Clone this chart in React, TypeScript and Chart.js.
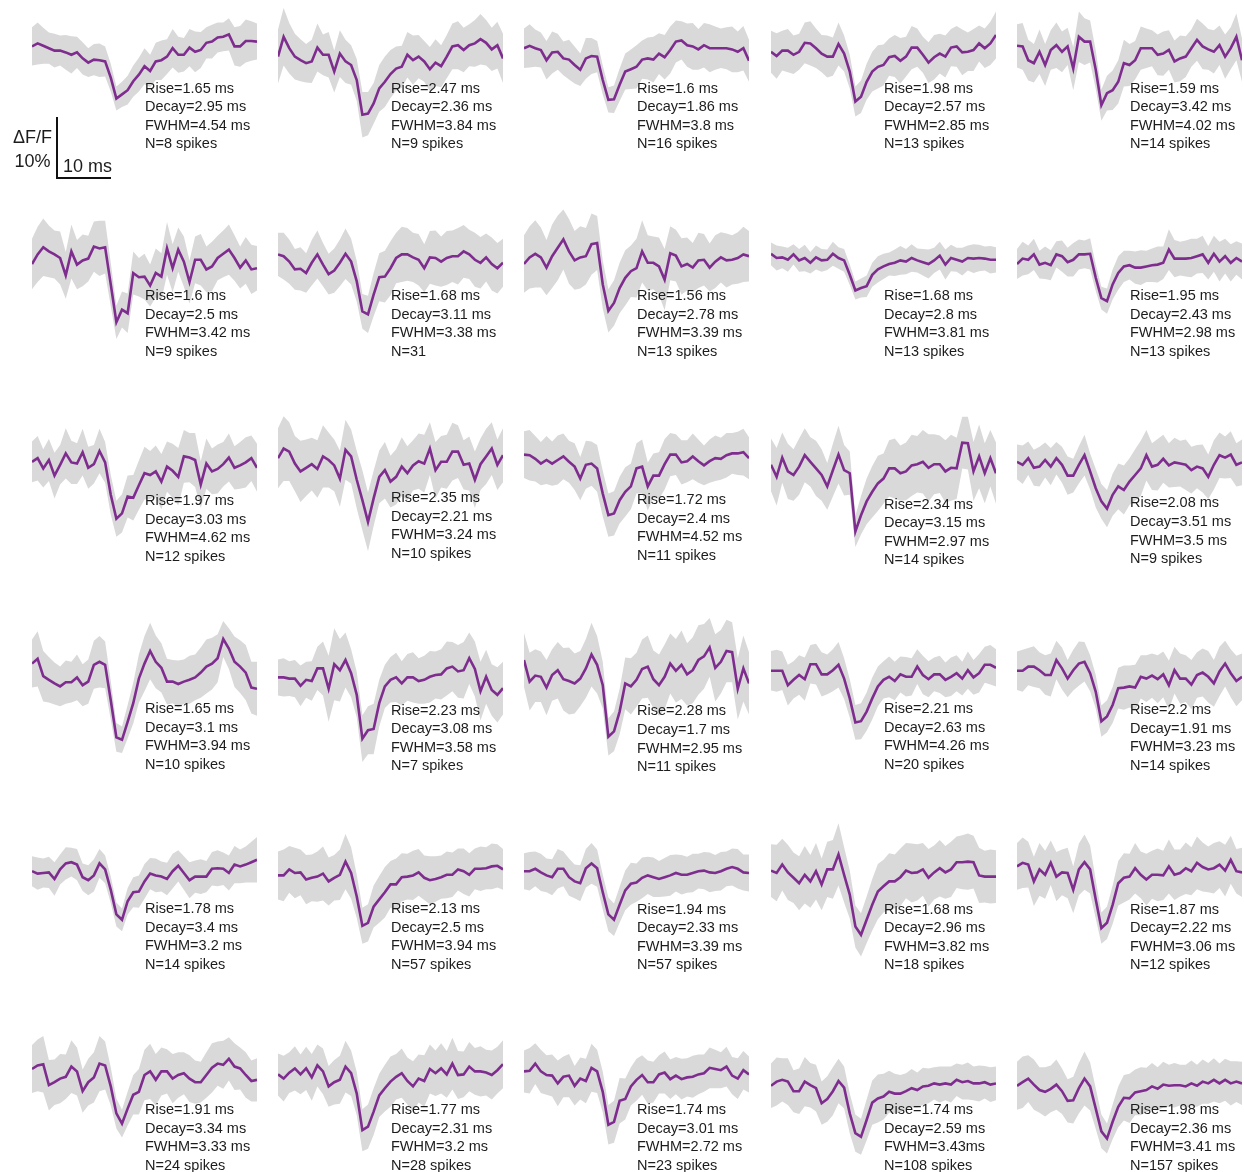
import React, { useEffect, useRef } from "react";
import { Chart, registerables } from "chart.js";

Chart.register(...registerables);

// time axis of every trace, in ms
const TIME_MS = [0,1,2,3,4,5,6,7,8,9,10,11,12,13,14,15,16,17,18,19,20,21,22,23,24,25,26,27,28,29,30,31,32,33,34,35,36,37,38,39,40];

// mean spike-triggered dF/F (%) per cell
const P01_MEAN = [0.1,0.6,0.2,-0.2,-0.6,-0.6,-0.9,-1.3,-0.9,-1.9,-2.6,-2.1,-2.2,-2.4,-5.1,-8.6,-7.9,-7.2,-5.7,-4.6,-3.2,-4.0,-2.4,-2.2,-1.6,-0.2,-1.3,-1.3,-0.1,-0.8,-0.5,0.7,0.9,1.6,1.7,2.1,0.1,0.1,1.0,1.0,0.9];
const P02_MEAN = [-1.6,1.7,-0.2,-1.6,-2.2,-2.7,-2.4,-0.1,-1.3,-1.3,-4.1,-1.1,-2.4,-3.0,-5.5,-11.3,-11.1,-9.4,-6.9,-5.8,-4.5,-3.6,-3.3,-1.3,-2.2,-1.6,-2.4,-3.7,-2.6,-3.2,-1.6,0.1,0.3,-0.5,0.3,0.6,1.3,0.7,-0.4,0.3,-1.9];
const P03_MEAN = [-0.2,0.2,-0.2,-0.5,-2.2,-0.9,-0.8,-1.9,-2.1,-3.0,-3.8,-1.9,-1.5,-1.6,-5.5,-8.8,-8.7,-6.3,-4.1,-3.7,-3.3,-2.1,-1.9,-2.1,-1.1,-1.7,-0.5,0.9,1.1,0.3,0.1,-0.4,0.3,-0.2,-0.2,-0.2,-0.2,-0.4,-0.8,-0.2,-2.3];
const P04_MEAN = [-0.8,-1.5,-0.6,-0.6,-1.3,-0.8,0.7,0.6,-0.2,-1.1,-1.6,-1.6,0.5,-1.1,-4.1,-9.1,-8.3,-5.8,-4.1,-3.3,-3.0,-1.7,-1.5,-2.3,-1.6,-0.1,-0.1,-1.3,-2.6,-1.7,-1.1,-1.6,-0.1,0.1,-0.9,-0.8,-0.5,0.6,-0.2,0.6,2.0];
const P05_MEAN = [0.2,0.1,-2.2,-2.7,-0.8,-3.0,-0.5,0.3,-0.8,0.1,-3.6,1.7,0.9,0.9,-3.8,-9.7,-7.7,-7.2,-5.8,-2.7,-3.0,-2.2,-0.2,-0.2,-0.2,-1.3,-1.1,-0.5,-2.4,-1.9,-1.6,-0.2,1.2,0.1,-0.4,-0.8,0.3,-1.6,-0.2,1.7,-2.2];
const P06_MEAN = [-1.0,0.6,1.8,1.1,0.6,0,-2.9,1.1,-1.1,-0.4,-0.1,1.9,1.6,1.8,-4.4,-10.7,-8.6,-9.2,-2.5,-3.2,-3.1,-4.6,-2.5,-3.1,1.6,-1.7,1.4,-0.6,-4.0,-0.3,-0.3,-1.9,-1.4,0,0.7,1.4,0,-1.6,-0.4,-1.9,-1.7];
const P07_MEAN = [0.6,0.3,-0.6,-1.9,-1.8,-2.5,-0.8,0.6,-1.1,-2.7,-2.1,-0.8,0.7,-0.6,-3.9,-8.9,-9.4,-6.1,-3.2,-3.1,-1.7,0,0.6,0.6,0.1,-0.3,-1.7,0.1,0,-0.6,0,0.3,0.3,1.1,0.6,-0.3,-0.8,0.1,-1.0,-1.7,-0.8];
const P08_MEAN = [-1.0,0.1,0.7,0.1,-1.6,0.3,1.7,3.1,1.1,-0.4,0.1,0.3,2.3,2.5,-4.4,-8.8,-7.5,-5.0,-3.3,-2.2,-1.7,1.1,-0.8,-0.8,-1.4,-3.6,0.8,0.4,-1.4,-1.0,-1.6,-0.4,-0.3,-1.6,-0.6,0.1,-0.4,-0.3,0,0.6,0.3];
const P09_MEAN = [0.7,0,0.1,-0.3,0.6,-0.4,0,-0.8,0.1,-0.4,-0.3,0.7,0,-0.4,-2.8,-5.4,-5.0,-4.7,-2.8,-1.9,-1.4,-1.0,-0.8,-0.4,-0.6,0,-0.4,-0.7,-1.0,-0.4,0.4,-1.1,0,-0.3,-0.6,0,-0.1,0,-0.1,-0.3,-0.3];
const P10_MEAN = [-1.0,-0.1,-0.3,0.6,-1.1,-0.8,-1.2,0.6,0.3,-0.7,-0.3,0.6,0.6,0.7,-3.3,-6.7,-7.2,-4.4,-2.5,-1.4,-1.2,-1.6,-1.6,-1.4,-1.2,-1.1,-0.8,1.4,-0.1,-0.1,-0.1,0,0.3,0.6,-0.8,0.7,-0.6,0.3,-0.8,0,-0.6];
const P11_MEAN = [-0.3,0.3,-1.4,0,-2.6,-0.8,1.1,-0.4,-0.6,1.3,-1.3,-0.7,1.5,-0.4,-5.8,-9.8,-8.9,-6.1,-6.3,-4.2,-2.2,-2.5,-1.9,-3.6,-1.1,-1.8,-2.8,0.6,0.4,0,-4.1,-0.6,-1.9,-1.5,-0.7,0.4,-1.3,-0.9,-0.4,0.3,-1.3];
const P12_MEAN = [0.3,1.9,1.4,-0.6,-1.9,-1.3,-0.7,-1.5,0.6,0,-0.9,-3.1,1.7,0.6,-3.3,-6.7,-10.3,-6.4,-2.8,-1.7,-3.6,-2.8,-1.1,-2.2,-0.9,-0.2,-0.6,1.9,-1.7,-0.3,-0.3,1.4,1.4,-0.8,-0.6,-3.3,-0.7,0.6,1.9,-0.8,0.8];
const P13_MEAN = [0.9,0.8,0.2,-0.6,0,-0.6,0,0.6,-0.3,-1.1,-3.1,-0.8,-0.6,-1.4,-5.6,-9.2,-8.9,-6.7,-5.3,-4.4,-1.4,-1.1,-4.4,-2.6,-2.6,-0.7,0.9,0.9,-0.4,-0.2,0.6,-0.2,-0.9,-0.2,0.3,0.2,0.8,1.1,1.1,1.3,0.3];
const P14_MEAN = [-0.8,-2.8,0.4,-1.9,-2.5,-1.1,0.8,-0.3,-1.4,-2.5,-4.4,-1.7,0.9,-1.7,-2.2,-11.9,-9.2,-6.9,-5.3,-3.9,-3.1,-1.4,-1.4,-2.2,-1.9,-0.9,-0.7,-0.3,-1.3,-0.7,-0.7,-1.9,-1.3,-1.4,2.9,2.8,-1.9,0.6,-2.2,0.3,-2.2];
const P15_MEAN = [-0.3,-0.8,0.3,-1.3,-1.1,0,-1.1,0.3,-0.8,-2.6,-2.6,-0.8,0.8,-1.9,-4.7,-6.9,-8.1,-5.8,-4.4,-5.0,-3.6,-2.5,-1.4,0.8,-1.1,-0.8,0.2,-0.9,-0.4,-0.6,-0.8,-1.7,-1.1,-1.4,-2.8,-0.8,0.8,0.4,0.9,-0.8,-0.4];
const P16_MEAN = [1.9,2.7,-0.2,-0.8,-1.4,-1.9,-1.2,-1.2,-0.4,-1.7,-1.1,1.7,2.2,1.7,-4.2,-10.4,-10.8,-7.8,-4.7,-0.6,1.9,4.0,2.2,1.2,-1.1,-1.1,-1.5,-1.1,-0.8,-0.4,0.4,1.4,1.9,2.8,6.0,4.4,2.2,1.4,0.4,-2.1,-2.3];
const P17_MEAN = [-0.4,-0.4,-0.6,-0.6,-1.8,-0.8,-1.0,1.1,1.1,-2.3,1.8,0.8,2.5,0.3,-3.3,-10.6,-9.2,-9.0,-4.7,-1.9,-0.8,-0.4,-1.4,-0.4,-0.4,-1.0,-0.8,-0.3,0,0.1,1.1,1.4,0.6,0.8,2.8,1.0,-2.7,-0.3,-2.5,-3.3,-2.2];
const P18_MEAN = [2.5,-1.1,-0.1,-0.3,-2.1,0,0.8,-0.7,-1.0,-1.4,-0.6,1.1,3.4,1.7,-1.7,-10.3,-9.4,-6.1,-1.4,-1.9,-0.8,1.0,1.4,-0.7,-1.7,-0.3,1.9,0.7,1.7,0.1,0.8,2.5,3.1,4.6,1.2,2.2,4.0,3.8,-2.3,1.1,-1.4];
const P19_MEAN = [0.7,0.7,0.7,-1.7,-0.8,0,-0.7,1.8,1.8,0.1,0.1,0.8,1.7,-0.6,-3.9,-7.9,-7.7,-6.1,-3.9,-1.9,-0.8,-0.3,-1.0,0.1,-0.3,-0.3,1.4,0,-0.7,0.1,0.1,-0.8,-0.3,0.3,-0.6,0.8,-0.4,0.3,1.7,1.7,1.2];
const P20_MEAN = [0.7,0.7,1.4,1.4,0.8,0,0,2.5,1.1,-0.6,0.8,1.9,2.2,0.3,-2.8,-7.7,-6.9,-5.0,-2.2,-2.1,-1.9,-2.1,-0.3,-0.6,-0.1,-0.7,0.1,-1.7,0.8,-0.6,-0.6,-1.6,0,0.4,-0.3,-1.4,0.6,1.9,0.3,-1.0,-0.3];
const P21_MEAN = [0.3,-0.1,0,0.1,-1.0,0.6,1.6,1.8,1.4,-0.7,-1.2,-0.4,1.6,0.6,-2.8,-6.9,-7.8,-4.7,-3.2,-3.1,-1.4,-0.1,-0.4,-0.6,-1.0,0.3,1.2,0,-1.2,-0.6,-0.6,-0.6,0.7,0.8,0.7,0,1.4,1.1,1.4,1.8,2.2];
const P22_MEAN = [-0.4,-0.4,0.6,0,0.1,-1.1,-0.8,-0.6,-0.1,-1.4,-0.8,-0.3,1.9,0,-3.9,-8.8,-8.3,-5.6,-4.4,-3.2,-1.9,-1.9,-0.7,-0.6,-0.4,0.1,-0.8,-1.2,-1.0,-0.7,-0.3,-0.3,0.6,0.3,-0.3,0.7,0.7,0.8,1.1,1.2,0.6];
const P23_MEAN = [0.3,0.3,0.7,0.1,-0.4,-0.7,0.7,0.7,-0.7,-1.4,-1.7,0.8,1.6,0.8,-3.2,-6.9,-7.8,-5.3,-2.9,-1.8,-1.6,-0.8,-0.4,-0.7,-1.0,-0.7,-0.4,0,-0.3,-0.3,0,0.3,0.4,0.1,0,0.3,0.7,1.0,0.7,0.1,0];
const P24_MEAN = [0.4,0,1.4,0.1,-0.8,-1.7,-0.3,-1.4,0.3,-1.9,0.6,0.6,3.1,-0.3,-3.6,-8.9,-10.3,-7.8,-5.3,-3.1,-2.2,-1.4,-1.4,-0.7,0.4,0,0.1,0.6,-0.8,0.1,0.8,0.1,0.6,1.8,1.8,1.9,1.8,-0.4,-0.6,-0.6,-0.6];
const P25_MEAN = [1.1,1.7,1.4,-1.4,0.6,-0.3,1.7,-0.6,0.1,0,-2.8,0.6,1.8,0.6,-4.4,-9.2,-8.3,-5.3,-1.7,-0.8,-0.6,0.8,-0.3,-1.1,-0.3,-0.3,-0.4,1.1,-0.3,0,0.8,0.3,1.7,1.0,0.6,0.8,1.4,0.4,2.2,0.3,0.1];
const P26_MEAN = [1.0,1.6,1.8,-1.7,-1.2,-0.6,-0.3,1.4,0.6,-2.7,-1.2,-0.4,1.9,1.6,-1.9,-6.4,-8.1,-5.6,-3.3,-2.8,0,0.6,-0.8,0.6,0.6,-0.6,0,0.3,-0.6,-1.2,-1.2,0,1.2,1.9,1.7,2.7,1.4,1.1,0,-1.0,-0.8];
const P27_MEAN = [0.1,-0.6,0.4,1.1,0.1,1.1,-0.4,1.6,0.6,-1.9,-1.2,-0.8,1.4,0.3,-3.1,-9.2,-8.6,-6.1,-3.4,-2.2,-1.1,-0.3,0.3,-1.0,-1.9,-0.6,-1.0,1.0,0.3,1.1,0.1,1.9,0,0.1,1.4,0.6,0.6,0.4,0,0.8,1.8];
const P28_MEAN = [0.6,0.7,1.9,0.6,0,-0.1,-1.4,-0.3,-0.1,-1.8,-0.6,-1.0,1.2,0.6,-2.8,-8.3,-7.8,-4.3,-4.0,-1.9,-0.8,0,-1.2,-1.2,0.1,0.4,-0.7,-0.1,-0.7,-0.4,-0.3,0.1,0.3,1.2,1.0,0.8,1.4,-0.1,-0.6,0.8,0.1];
const P29_MEAN = [-1.8,-1.1,-0.8,-1.1,-2.7,-2.7,-1.1,-1.7,-2.2,-4.7,-4.0,-2.7,-1.0,-2.1,-6.4,-9.7,-10.3,-7.5,-4.6,-3.9,-3.6,-2.8,-3.1,-3.1,-2.7,-2.2,-2.5,-1.9,-1.8,-1.4,-1.6,-1.4,-1.6,-0.8,-1.2,-1.0,-1.4,-1.4,-1.2,-1.6,-1.4];
const P30_MEAN = [-1.8,-1.2,-0.6,-1.6,-2.5,-2.8,-2.3,-1.6,-2.7,-4.3,-4.2,-2.2,-0.6,-1.9,-5.6,-9.4,-10.6,-7.8,-5.3,-3.8,-3.9,-2.9,-2.7,-2.5,-1.9,-2.3,-1.6,-1.8,-1.7,-1.7,-1.9,-1.4,-1.8,-1.1,-1.4,-0.8,-1.4,-0.8,-1.4,-1.1,-1.4];

// shaded error band half-width (%) per cell
const P01_SEM = [3.2,3.5,3.0,2.6,2.8,2.5,2.9,3.1,2.6,2.7,2.4,2.6,2.8,2.5,2.3,2.0,2.1,2.4,2.6,2.8,3.0,2.7,3.1,3.3,2.9,3.2,3.0,2.8,3.1,3.4,3.0,2.6,2.8,2.5,2.4,2.7,3.2,3.4,3.6,3.3,3.0];
const P02_SEM = [4.5,4.8,4.2,3.8,3.5,3.2,3.6,4.0,3.4,3.8,3.5,3.9,3.6,3.3,3.5,3.8,3.6,3.4,3.9,4.2,4.0,3.7,3.5,3.8,4.1,3.6,3.4,3.7,3.9,3.5,3.6,3.8,4.0,3.7,3.5,3.9,4.2,3.8,3.6,3.9,4.1];
const P03_SEM = [3.3,3.6,3.1,2.9,3.2,3.5,3.0,2.8,3.3,3.1,2.7,3.4,3.0,2.6,2.4,2.1,2.3,2.7,3.0,3.3,3.6,3.2,3.5,3.8,3.4,3.7,3.9,3.5,3.2,3.6,3.9,3.4,3.7,4.0,3.6,3.3,3.5,3.8,3.4,3.7,3.5];
const P04_SEM = [3.5,3.8,3.3,3.6,3.2,3.0,3.4,3.7,3.3,3.1,3.5,3.2,3.6,3.0,2.8,2.5,2.7,3.0,3.3,3.6,3.4,3.1,3.5,3.8,3.3,3.6,3.2,3.0,3.4,3.7,3.3,3.5,3.1,3.4,3.8,3.2,3.5,3.0,3.3,3.6,3.9];
const P05_SEM = [3.6,3.9,3.4,3.2,3.7,3.5,3.3,3.8,3.4,3.1,3.6,4.2,3.9,3.5,3.2,2.6,2.9,3.3,3.6,3.9,3.5,3.2,3.6,3.3,3.0,3.4,3.7,3.3,3.5,3.8,3.4,3.1,3.5,3.8,3.4,3.6,3.3,3.7,3.5,3.9,3.6];
const P06_SEM = [4.2,4.6,4.8,4.3,4.0,4.4,3.9,4.5,4.1,4.3,3.8,4.2,4.6,4.4,3.6,2.8,3.0,3.3,3.6,3.2,3.8,3.5,4.1,3.9,4.4,4.0,3.7,4.2,3.6,3.9,4.3,3.8,4.1,3.7,3.9,4.2,3.8,3.5,3.9,4.1,3.7];
const P07_SEM = [3.6,3.9,3.7,3.4,3.6,3.3,3.8,4.0,3.6,3.4,3.7,3.9,4.2,3.8,3.4,2.9,3.1,3.6,4.0,4.3,4.5,4.2,4.6,4.4,4.1,4.3,4.0,4.4,4.6,4.2,4.5,4.3,4.7,4.4,4.1,4.5,4.3,4.0,4.4,4.2,4.0];
const P08_SEM = [4.8,5.2,5.6,5.0,4.6,5.3,5.4,5.0,5.4,4.9,5.2,4.7,5.1,4.5,4.0,3.6,3.8,4.2,4.6,4.3,4.9,5.2,4.6,4.4,4.8,5.1,4.5,4.3,4.7,4.4,4.1,4.6,4.3,4.0,4.4,4.2,4.5,4.1,4.3,4.6,4.2];
const P09_SEM = [1.9,2.1,1.8,2.0,1.7,1.9,2.2,1.8,2.0,1.9,1.7,2.0,1.8,1.9,1.7,1.5,1.6,1.8,2.0,2.2,2.1,1.9,2.2,2.4,2.1,2.3,2.0,2.2,2.4,2.1,2.3,2.5,2.2,2.0,2.3,2.1,2.4,2.2,2.0,2.3,2.1];
const P10_SEM = [2.5,2.8,2.4,2.6,2.3,2.7,2.5,2.2,2.6,2.4,2.8,2.5,2.3,2.6,2.2,1.9,2.1,2.5,2.8,2.6,2.4,2.7,2.9,2.6,2.8,3.0,2.7,3.4,3.1,2.8,3.0,3.2,2.9,3.1,2.8,3.0,3.3,2.9,3.1,2.8,3.0];
const P11_SEM = [3.4,3.7,3.2,3.5,3.8,3.3,4.2,3.6,3.4,3.9,3.5,3.2,3.7,3.4,3.3,3.0,3.2,3.5,3.8,4.1,4.4,4.0,4.3,4.6,4.2,4.5,4.8,4.4,4.1,4.5,3.9,4.2,3.8,4.1,3.7,4.0,3.6,3.9,4.2,3.8,4.0];
const P12_SEM = [5.0,5.4,4.9,4.6,5.1,4.7,4.4,4.8,5.2,4.6,4.3,4.7,5.0,4.5,4.8,5.0,4.9,4.6,4.4,4.7,4.3,4.6,4.9,4.5,4.2,4.6,4.8,4.4,4.7,4.3,4.5,4.8,4.4,4.1,4.5,4.7,4.3,4.6,4.4,4.2,4.5];
const P13_SEM = [3.9,4.2,3.8,3.6,4.0,3.7,4.1,3.8,3.5,3.9,3.6,4.0,3.7,3.9,3.8,3.6,3.7,3.9,4.1,3.8,4.2,4.5,4.0,3.7,3.9,4.2,3.6,3.4,3.7,3.5,3.8,3.6,3.3,3.6,3.8,3.5,3.7,3.4,3.6,3.9,3.5];
const P14_SEM = [4.4,4.8,4.2,4.6,4.3,4.7,4.5,4.1,4.6,4.3,3.9,4.4,4.8,4.2,3.6,2.6,3.2,3.8,4.3,4.6,4.2,4.7,5.0,4.6,4.8,5.1,4.7,5.3,5.6,5.0,4.8,5.2,5.5,5.1,4.3,4.4,4.9,5.3,5.0,4.7,5.1];
const P15_SEM = [2.9,3.2,2.8,3.0,3.3,2.9,3.1,2.7,3.0,3.2,2.8,3.1,3.4,3.0,3.2,2.9,3.1,3.5,3.8,4.1,3.9,4.3,4.6,4.2,3.9,4.3,4.0,3.7,4.1,3.8,4.2,3.9,3.6,4.0,3.7,4.1,3.8,3.5,3.9,3.6,3.8];
const P16_SEM = [4.0,4.6,4.2,3.8,3.5,3.3,3.6,3.4,3.8,3.5,3.7,4.0,4.3,3.9,3.2,2.4,2.2,2.8,3.4,4.0,4.6,4.7,4.4,4.1,3.8,3.6,3.9,3.7,4.0,3.8,4.2,4.5,4.3,4.0,3.0,3.4,4.2,4.4,4.6,4.3,4.5];
const P17_SEM = [3.0,3.2,2.9,3.1,3.4,3.0,3.3,3.6,4.5,5.5,6.0,5.2,4.6,4.0,3.8,3.9,4.0,4.2,3.9,3.6,3.8,4.1,3.7,3.9,4.2,3.8,4.0,4.3,3.9,4.2,4.5,4.1,4.4,4.7,4.3,4.6,4.9,4.5,4.3,4.6,4.4];
const P18_SEM = [4.5,4.8,4.4,4.2,4.6,4.3,4.7,5.2,5.6,5.0,4.6,4.9,5.3,4.8,3.9,3.1,3.3,3.8,4.3,4.7,4.5,4.9,5.2,4.8,5.1,5.4,5.0,5.3,5.7,5.2,5.5,5.8,5.4,4.9,5.6,5.3,5.2,5.0,5.1,5.5,5.2];
const P19_SEM = [3.3,3.5,3.2,3.4,3.1,3.3,3.6,3.2,3.4,3.7,3.3,3.5,3.8,3.4,3.2,2.9,3.0,3.2,3.5,3.3,3.1,3.4,3.2,3.0,3.3,3.1,2.9,3.2,3.0,2.8,3.1,2.9,3.2,3.0,2.8,3.1,2.9,3.2,3.0,3.3,3.1];
const P20_SEM = [3.2,3.5,3.1,3.4,3.0,3.3,3.6,3.2,3.5,3.1,3.4,3.7,3.3,3.0,2.8,2.6,2.7,3.0,3.4,3.7,3.5,3.8,3.6,3.9,3.7,4.0,3.8,4.1,3.9,4.2,3.9,4.1,3.8,4.0,4.3,3.9,4.1,3.8,4.0,4.2,3.9];
const P21_SEM = [2.5,2.7,2.4,2.6,2.8,2.5,2.7,2.4,2.6,2.3,2.5,2.7,2.4,2.3,2.2,2.0,1.9,2.2,2.5,2.7,2.9,2.6,2.8,2.5,2.7,2.9,2.6,2.8,3.0,2.7,2.9,2.6,2.8,3.0,2.7,2.9,3.1,2.8,3.0,3.4,3.8];
const P22_SEM = [4.0,4.3,3.9,4.2,3.8,4.1,3.9,4.2,4.5,4.0,3.8,4.2,4.6,4.3,3.6,3.0,3.1,3.5,3.9,4.2,3.9,4.3,4.0,3.8,4.1,3.9,3.7,4.0,3.8,3.6,3.9,3.7,3.5,3.8,3.6,3.4,3.7,3.5,3.8,3.6,3.4];
const P23_SEM = [3.0,3.2,2.9,3.1,2.8,3.0,3.3,2.9,3.1,2.8,3.0,3.2,3.4,3.1,2.9,2.8,2.7,3.0,3.3,3.5,3.2,3.4,3.1,3.3,3.0,3.2,3.4,3.1,3.3,3.0,3.2,2.9,3.1,3.3,3.0,3.2,2.9,3.1,3.3,3.0,3.1];
const P24_SEM = [4.4,4.7,4.3,4.6,4.2,4.5,4.8,4.4,4.7,4.3,4.6,4.9,5.2,4.6,4.0,3.5,3.6,3.9,4.3,4.6,4.4,4.7,4.5,4.8,4.6,4.9,4.7,4.4,4.8,4.5,4.7,4.4,4.6,4.3,4.5,4.7,4.4,4.6,4.3,4.5,4.4];
const P25_SEM = [3.9,4.2,3.8,4.1,4.4,4.0,3.7,4.1,3.8,4.2,3.9,4.3,4.6,4.0,3.2,2.6,2.7,3.2,3.7,4.1,3.8,4.2,3.9,4.3,4.0,4.4,4.1,4.5,4.2,3.9,4.3,4.0,4.4,4.1,3.8,4.2,3.9,4.3,4.0,3.7,4.1];
const P26_SEM = [4.0,4.3,4.7,4.2,3.8,4.1,3.7,4.4,4.0,3.6,3.9,4.2,4.6,4.0,3.2,2.5,2.3,2.8,3.3,3.8,4.2,4.6,4.3,4.0,3.7,4.1,3.8,3.5,3.9,3.6,3.4,3.8,4.1,3.7,4.0,3.6,3.9,3.5,3.8,3.4,3.6];
const P27_SEM = [3.5,3.8,3.4,3.7,3.3,3.6,3.9,3.5,3.8,3.4,3.7,4.0,4.3,3.8,3.6,3.5,3.7,3.9,3.6,3.9,4.2,3.8,4.1,3.9,4.2,4.0,4.3,4.1,3.8,4.2,3.9,4.3,4.0,3.8,4.1,3.9,4.2,3.8,4.1,3.9,4.0];
const P28_SEM = [3.5,3.8,3.4,3.6,3.3,3.5,3.8,3.4,3.6,3.3,3.5,3.7,4.0,3.6,3.4,3.3,3.5,3.8,3.4,3.2,3.5,3.3,3.6,3.4,3.2,3.5,3.3,3.1,3.4,3.2,3.5,3.3,3.1,3.4,3.2,3.0,3.3,3.1,3.4,3.2,3.0];
const P29_SEM = [3.7,4.0,3.6,3.9,3.5,3.8,4.1,3.7,3.9,3.6,3.8,4.0,3.7,3.5,3.3,3.1,3.0,3.4,3.7,4.0,3.8,3.5,3.3,3.1,3.0,3.2,2.9,3.1,2.9,2.7,3.0,2.8,3.0,2.7,2.9,3.1,2.8,3.0,2.7,2.9,2.8];
const P30_SEM = [4.0,4.3,3.9,4.2,3.8,4.1,3.9,4.2,3.8,3.6,3.9,4.2,4.5,4.0,3.4,2.8,2.5,2.9,3.4,3.8,4.1,3.8,4.0,3.7,3.9,3.6,3.8,3.5,3.7,3.4,3.6,3.8,3.5,3.7,3.4,3.6,3.3,3.5,3.7,3.4,3.6];

// per-cell statistics printed next to each trace
const RISE_MS = [1.65,2.47,1.6,1.98,1.59,1.6,1.68,1.56,1.68,1.95,1.97,2.35,1.72,2.34,2.08,1.65,2.23,2.28,2.21,2.2,1.78,2.13,1.94,1.68,1.87,1.91,1.77,1.74,1.74,1.98];
const DECAY_MS = [2.95,2.36,1.86,2.57,3.42,2.5,3.11,2.78,2.8,2.43,3.03,2.21,2.4,3.15,3.51,3.1,3.08,1.7,2.63,1.91,3.4,2.5,2.33,2.96,2.22,3.34,2.31,3.01,2.59,2.36];
const FWHM_MS = [4.54,3.84,3.8,2.85,4.02,3.42,3.38,3.39,3.81,2.98,4.62,3.24,4.52,2.97,3.5,3.94,3.58,2.95,4.26,3.23,3.2,3.94,3.39,3.82,3.06,3.33,3.2,2.72,3.43,3.41];
const N_SPIKES = [8,9,16,13,14,9,31,13,13,13,12,10,11,14,9,10,7,11,20,14,14,57,57,18,12,24,28,23,108,157];
const N_WITHOUT_UNIT = [6];
const FWHM_NO_SPACE = [28];

const MEANS = [P01_MEAN,P02_MEAN,P03_MEAN,P04_MEAN,P05_MEAN,P06_MEAN,P07_MEAN,P08_MEAN,P09_MEAN,P10_MEAN,P11_MEAN,P12_MEAN,P13_MEAN,P14_MEAN,P15_MEAN,P16_MEAN,P17_MEAN,P18_MEAN,P19_MEAN,P20_MEAN,P21_MEAN,P22_MEAN,P23_MEAN,P24_MEAN,P25_MEAN,P26_MEAN,P27_MEAN,P28_MEAN,P29_MEAN,P30_MEAN];
const SEMS = [P01_SEM,P02_SEM,P03_SEM,P04_SEM,P05_SEM,P06_SEM,P07_SEM,P08_SEM,P09_SEM,P10_SEM,P11_SEM,P12_SEM,P13_SEM,P14_SEM,P15_SEM,P16_SEM,P17_SEM,P18_SEM,P19_SEM,P20_SEM,P21_SEM,P22_SEM,P23_SEM,P24_SEM,P25_SEM,P26_SEM,P27_SEM,P28_SEM,P29_SEM,P30_SEM];

// layout
const COL_X = [32, 278, 524, 771, 1017];
const ROW_ZERO_Y = [47, 258.3, 460, 675, 873.3, 1075];
const TEXT_Y = [
  [88, 88, 88, 88, 88],
  [295.5, 295.5, 295.5, 295.5, 295.5],
  [500.5, 497.3, 499.3, 504, 502.7],
  [708.3, 710, 710.7, 708.3, 709.3],
  [908.3, 908.3, 909, 909, 909],
  [1109.3, 1109.3, 1109.3, 1109.3, 1109.3],
];
const PX_PER_PCT = 6;
const Y_MAX = 11;
const Y_MIN = -17;
const PLOT_W = 225;
const PAD = 6;
const PURPLE = "#7e2d8f";
const BAND = "#d9d9d9";
const FONT = "'Liberation Sans', Arial, Helvetica, sans-serif";

function Panel({ p }: { p: number }) {
  const ref = useRef<HTMLCanvasElement | null>(null);
  const r = Math.floor(p / 5);
  const c = p % 5;
  const h = (Y_MAX - Y_MIN) * PX_PER_PCT;
  const w = PLOT_W + PAD * 2;
  useEffect(() => {
    const mean = MEANS[p];
    const sem = SEMS[p];
    const chart = new Chart(ref.current as HTMLCanvasElement, {
      type: "line",
      data: {
        datasets: [
          {
            data: mean.map((v, i) => ({ x: TIME_MS[i], y: v + sem[i] })),
            borderColor: "rgba(0,0,0,0)",
            borderWidth: 1,
            pointRadius: 0,
            fill: false,
            order: 1,
          },
          {
            data: mean.map((v, i) => ({ x: TIME_MS[i], y: v - sem[i] })),
            borderColor: "rgba(0,0,0,0)",
            borderWidth: 1,
            pointRadius: 0,
            fill: "-1",
            backgroundColor: BAND,
            order: 1,
          },
          {
            data: mean.map((v, i) => ({ x: TIME_MS[i], y: v })),
            borderColor: PURPLE,
            borderWidth: 2.6,
            pointRadius: 0,
            fill: false,
            tension: 0,
            order: 0,
          },
        ],
      },
      options: {
        responsive: false,
        animation: false,
        devicePixelRatio: 1,
        events: [],
        layout: { padding: { left: PAD, right: PAD, top: 0, bottom: 0 } },
        plugins: { legend: { display: false }, tooltip: { enabled: false } },
        scales: {
          x: { type: "linear", min: 0, max: 40, display: false },
          y: { type: "linear", min: Y_MIN, max: Y_MAX, display: false },
        },
      },
    } as any);
    return () => chart.destroy();
  }, [p]);
  return (
    <canvas
      ref={ref}
      width={w}
      height={h}
      style={{
        position: "absolute",
        left: COL_X[c] - PAD,
        top: ROW_ZERO_Y[r] - Y_MAX * PX_PER_PCT,
        width: w,
        height: h,
      }}
    />
  );
}

function Stats({ p }: { p: number }) {
  const r = Math.floor(p / 5);
  const c = p % 5;
  const lh = 18.6;
  const lines = [
    `Rise=${RISE_MS[p]} ms`,
    `Decay=${DECAY_MS[p]} ms`,
    `FWHM=${FWHM_MS[p]}${FWHM_NO_SPACE.includes(p) ? "" : " "}ms`,
    `N=${N_SPIKES[p]}${N_WITHOUT_UNIT.includes(p) ? "" : " spikes"}`,
  ];
  return (
    <div
      style={{
        position: "absolute",
        left: COL_X[c] + 113,
        top: TEXT_Y[r][c] - lh / 2,
        fontFamily: FONT,
        fontSize: 14.5,
        lineHeight: `${lh}px`,
        color: "#1c1c1c",
        whiteSpace: "pre",
      }}
    >
      {lines.map((t, i) => (
        <div key={i}>{t}</div>
      ))}
    </div>
  );
}

function ScaleBar() {
  const label: React.CSSProperties = {
    position: "absolute",
    fontFamily: FONT,
    fontSize: 18,
    lineHeight: "20px",
    color: "#1c1c1c",
    whiteSpace: "pre",
  };
  return (
    <>
      <div style={{ position: "absolute", left: 55.5, top: 117, width: 2.5, height: 62, background: "#111" }} />
      <div style={{ position: "absolute", left: 55.5, top: 176.5, width: 55, height: 2.5, background: "#111" }} />
      <div style={{ ...label, left: 2, width: 61, textAlign: "center", top: 127 }}>ΔF/F</div>
      <div style={{ ...label, left: 2, width: 61, textAlign: "center", top: 151 }}>10%</div>
      <div style={{ ...label, left: 63, top: 156 }}>10 ms</div>
    </>
  );
}

export default function App() {
  const ids = MEANS.map((_, i) => i);
  return (
    <div
      style={{
        position: "absolute",
        left: 0,
        top: 0,
        width: 1244,
        height: 1172,
        overflow: "hidden",
        background: "#fff",
      }}
    >
      {ids.map((p) => (
        <Panel key={`c${p}`} p={p} />
      ))}
      {ids.map((p) => (
        <Stats key={`t${p}`} p={p} />
      ))}
      <ScaleBar />
    </div>
  );
}
